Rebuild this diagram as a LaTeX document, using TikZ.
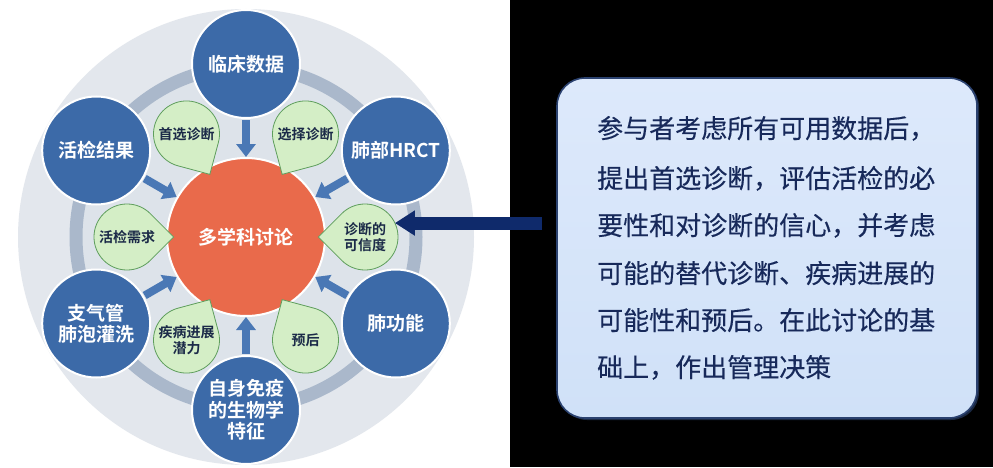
\documentclass[tikz,border=0pt]{standalone}
\usepackage{fontspec}
\usetikzlibrary{arrows.meta}
\newfontfamily\cjk{Noto Sans CJK SC}[BoldFont={Noto Sans CJK SC Bold}]
\newfontfamily\cjkbox{Noto Sans CJK SC}[FakeBold=0.3]
\definecolor{satblue}{HTML}{3C6AA8}
\definecolor{arrowblue}{HTML}{4A78B5}
\definecolor{coral}{HTML}{E96A4B}
\definecolor{leafgreen}{HTML}{D4EEC6}
\definecolor{leafline}{HTML}{5E9E5C}
\definecolor{leaftxt}{HTML}{1B2A48}
\definecolor{diskgray}{HTML}{E3E7ED}
\definecolor{innergray}{HTML}{DDE3EA}
\definecolor{ringgray}{HTML}{AAB8CB}
\definecolor{navy}{HTML}{0F2A6B}
\definecolor{boxtop}{HTML}{DDE9FB}
\definecolor{boxbot}{HTML}{D0E1F8}
\definecolor{boxedge}{HTML}{2B4270}
\definecolor{boxtext}{HTML}{17295A}
\begin{document}
\begin{tikzpicture}[x=1pt,y=1pt,
  sat/.style={circle, minimum size=108pt, inner sep=0pt, outer sep=0pt, fill=satblue, draw=white, line width=2pt, text=white, font=\cjk\bfseries\fontsize{19}{21.5}\selectfont, align=center},
  hub/.style={circle, minimum size=158pt, inner sep=0pt, outer sep=0pt, fill=coral, draw=white, line width=2pt, text=white, font=\cjk\bfseries\fontsize{19}{22}\selectfont},
  leafshape/.style={fill=leafgreen, draw=leafline, line width=0.8pt},
  leaftext/.style={circle, minimum size=66pt, inner sep=0pt, outer sep=0pt, text=leaftxt, font=\cjk\bfseries\fontsize{14}{16}\selectfont, align=center},
  flowarrow/.style={draw=arrowblue, line width=8pt, -{Triangle[width=19pt,length=13pt]}, shorten <=2pt, shorten >=1pt},
  bigarrow/.style={draw=navy, line width=13pt, -{Triangle[width=24pt,length=20pt]}, shorten <=14pt},
  boxtextline/.style={font=\cjkbox\fontsize{26}{30}\selectfont, text=boxtext, anchor=base west, inner sep=0pt}
]
\useasboundingbox (0,0) rectangle (993,467);
\fill[white] (0,0) rectangle (510,467);
\fill[black] (510,0) rectangle (993,467);

\coordinate (C) at (246,230);
\fill[diskgray] (C) circle (228);
\fill[innergray] (C) circle (170);
\draw[ringgray, line width=13pt] (C) circle (170);

\begin{scope}[shift={(246,230)}]
  \node[sat] (s90)  at (90:173)  {临床数据};
  \node[sat] (s150) at (150:173) {活检结果};
  \node[sat] (s30)  at (30:173)  {肺部HRCT};
  \node[sat] (s210) at (210:173) {支气管\\肺泡灌洗};
  \node[sat] (s330) at (330:173) {肺功能};
  \node[sat] (s270) at (270:173) {自身免疫\\的生物学\\特征};
  \node[hub] (M) at (0,0) {多学科讨论};

  \foreach \a in {120,60,0,300,240,180}{
    \draw[leafshape, shift={(\a:119)}, rotate=\a+135]
      (33,0) -- (33,33) -- (0,33) arc[start angle=90, end angle=360, radius=33] -- cycle;
  }
  \node[leaftext] (l120) at (120:119) {首选诊断};
  \node[leaftext] (l60)  at (60:119)  {选择诊断};
  \node[leaftext] (l0)   at (0:119)   {诊断的\\可信度};
  \node[leaftext] (l300) at (300:119) {预后};
  \node[leaftext] (l240) at (240:119) {疾病进展\\潜力};
  \node[leaftext] (l180) at (180:119) {活检需求};
\end{scope}

\foreach \s in {s90,s150,s30,s210,s330,s270}{
  \draw[flowarrow] (\s) -- (M);
}

\fill[boxedge!60!black, rounded corners=28pt] (559,47) rectangle (979,388);
\node[draw=boxedge, line width=1.6pt, rounded corners=28pt, top color=boxtop, bottom color=boxbot,
      minimum width=420pt, minimum height=340pt, inner sep=0pt] (box) at (767,219) {};

\node[boxtextline] (t1) at (597,329) {参与者考虑所有可用数据后，};
\node[boxtextline] (t2) at (597,279) {提出首选诊断，评估活检的必};
\node[boxtextline] (t3) at (597,232) {要性和对诊断的信心，并考虑};
\node[boxtextline] (t4) at (597,184) {可能的替代诊断、疾病进展的};
\node[boxtextline] (t5) at (597,137) {可能性和预后。在此讨论的基};
\node[boxtextline] (t6) at (597,90)  {础上，作出管理决策};

\draw[bigarrow] (l0.25 -| box.west) -- (l0.25);
\end{tikzpicture}
\end{document}
